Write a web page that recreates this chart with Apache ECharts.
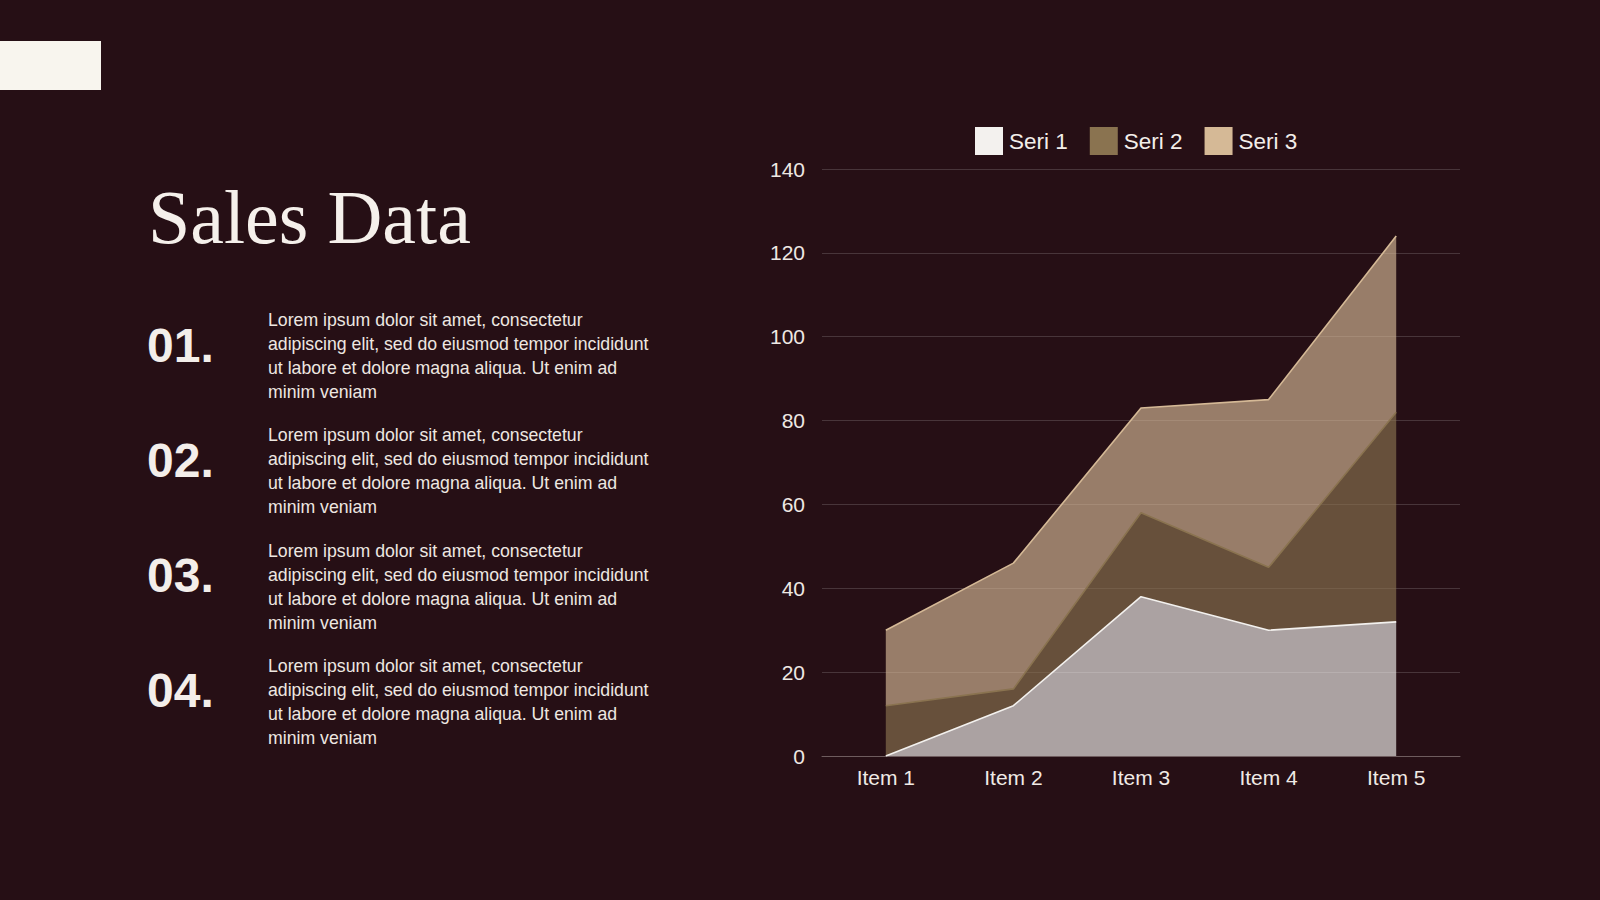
<!DOCTYPE html>
<html>
<head>
<meta charset="utf-8">
<script src="https://cdn.jsdelivr.net/npm/echarts@6/dist/echarts.min.js"></script>
<style>
html,body{margin:0;padding:0;background:#260F15;}
#c{width:1600px;height:900px;}
</style>
</head>
<body>
<div id="c"></div>
<script>
const categories = ['Item 1', 'Item 2', 'Item 3', 'Item 4', 'Item 5'];
const seri1 = [0, 12, 38, 30, 32];
const seri2 = [12, 4, 20, 15, 50];
const seri3 = [18, 30, 25, 40, 42];
const seriesNames = ['Seri 1', 'Seri 2', 'Seri 3'];
const yTicks = { min: 0, max: 140, interval: 20 };
const titleText = 'Sales Data';
const itemNumbers = ['01.', '02.', '03.', '04.'];
const itemText = 'Lorem ipsum dolor sit amet, consectetur\nadipiscing elit, sed do eiusmod tempor incididunt\nut labore et dolore magna aliqua. Ut enim ad\nminim veniam';

const colors = ['#F3F1EE', '#8A7350', '#D5B996'];
const sans = '"Liberation Sans", Arial, Helvetica, sans-serif';

const chart = echarts.init(document.getElementById('c'), null, { renderer: 'svg' });

const graphics = [
  { type: 'rect', shape: { x: 0, y: 41, width: 101, height: 49 }, style: { fill: '#F8F5EE' } },
  { type: 'text', x: 148, y: 217, style: { text: titleText, fill: '#F5F0EB', font: '76px "Liberation Serif", "Times New Roman", serif', verticalAlign: 'middle' } }
];
itemNumbers.forEach((n, i) => {
  const dy = i * 115.3;
  graphics.push({ type: 'text', x: 147, y: 345 + dy, style: { text: n, fill: '#F3EEEA', font: 'bold 48px ' + sans, verticalAlign: 'middle' } });
  graphics.push({ type: 'text', x: 268, y: 308 + dy, style: { text: itemText, fill: '#EEE7E1', font: '17.7px ' + sans, lineHeight: 24, verticalAlign: 'top' } });
});

function mkSeries(name, data, idx) {
  return {
    name: name,
    type: 'line',
    stack: 'total',
    data: data,
    symbol: 'none',
    lineStyle: { color: colors[idx], width: 1.6 },
    itemStyle: { color: colors[idx] },
    areaStyle: { color: colors[idx], opacity: 0.65 },
    emphasis: { disabled: true }
  };
}

chart.setOption({
  backgroundColor: '#260F15',
  animation: false,
  textStyle: { fontFamily: sans },
  graphic: graphics,
  legend: {
    data: seriesNames,
    left: 970,
    top: 122,
    itemWidth: 28,
    itemHeight: 28,
    itemGap: 22,
    icon: 'rect',
    textStyle: { color: '#F3EEEA', fontSize: 22.5, fontFamily: sans, padding: [0, 0, 0, 1] }
  },
  grid: { left: 822, right: 140, top: 169, bottom: 144, containLabel: false },
  xAxis: {
    type: 'category',
    data: categories,
    boundaryGap: true,
    axisLine: { lineStyle: { color: '#6E5C5E', width: 1 } },
    axisTick: { show: false },
    axisLabel: { color: '#F0EAE5', fontSize: 21, margin: 11 }
  },
  yAxis: {
    type: 'value',
    min: yTicks.min,
    max: yTicks.max,
    interval: yTicks.interval,
    axisLine: { show: false },
    axisTick: { show: false },
    axisLabel: { color: '#EEE8E3', fontSize: 21, margin: 17 },
    splitLine: { lineStyle: { color: 'rgba(255,255,255,0.16)', width: 1 } }
  },
  series: [mkSeries(seriesNames[0], seri1, 0), mkSeries(seriesNames[1], seri2, 1), mkSeries(seriesNames[2], seri3, 2)]
});
</script>
</body>
</html>
